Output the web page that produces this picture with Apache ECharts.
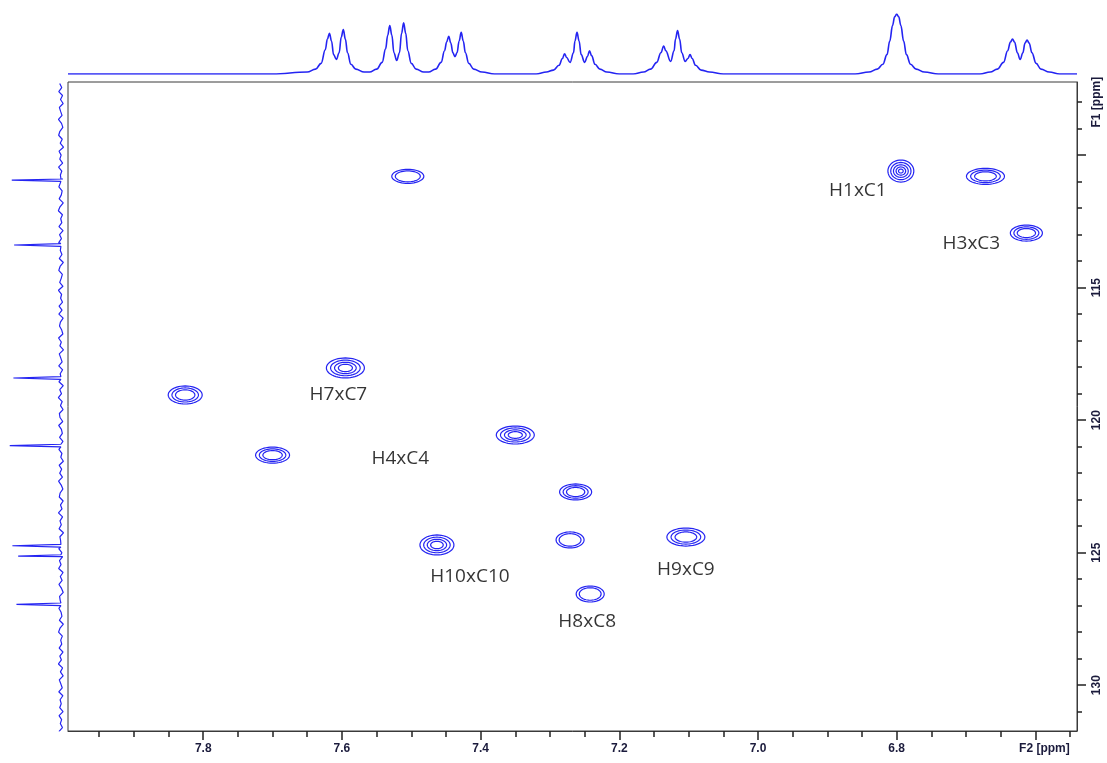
<!DOCTYPE html>
<html>
<head>
<meta charset="utf-8">
<title>HSQC</title>
<script src="https://cdn.jsdelivr.net/npm/echarts@6/dist/echarts.min.js"></script>
<style>
  html, body { margin: 0; padding: 0; background: #ffffff; }
  #chart { width: 1107px; height: 763px; }
</style>
</head>
<body>
<div id="chart"></div>
<script>
// ---- 2D cross peaks (F2 = 1H ppm, F1 = 13C ppm) ----
const peakF2 = [7.505, 6.794, 6.672, 6.613, 7.595, 7.826, 7.350, 7.700, 7.263, 7.463, 7.271, 7.104, 7.242];
const peakF1 = [110.80, 110.60, 110.80, 112.94, 118.03, 119.05, 120.56, 121.32, 122.71, 124.71, 124.52, 124.41, 126.56];
// half linewidths of the outermost contour, in ppm
const peakHalfWidthF2 = [0.0231, 0.0187, 0.0274, 0.0231, 0.0274, 0.0245, 0.0274, 0.0245, 0.0231, 0.0245, 0.0202, 0.0274, 0.0202];
const peakHalfWidthF1 = [0.264, 0.415, 0.302, 0.302, 0.377, 0.340, 0.340, 0.302, 0.302, 0.377, 0.302, 0.340, 0.302];
// number of contour levels above threshold
const peakLevels = [2, 5, 3, 3, 4, 3, 4, 3, 3, 4, 2, 3, 2];
const peakNames = ['', 'H1xC1', '', 'H3xC3', 'H7xC7', '', 'H4xC4', '', '', 'H10xC10', '', 'H9xC9', 'H8xC8'];

// ---- 1H projection (F2): [ppm, intensity] ----
const h1Doublet761 = [[7.700,0],[7.650,2],[7.638,5],[7.630,11],[7.624,25],[7.621,36],[7.618,42],[7.615,34],[7.612,20],[7.608,15],[7.604,22],[7.601,38],[7.598,46],[7.595,36],[7.592,22],[7.587,10],[7.580,5],[7.568,2]];
const h1Doublet752 = [[7.560,2],[7.550,5],[7.542,12],[7.537,26],[7.534,40],[7.531,50],[7.528,40],[7.525,22],[7.521,14],[7.517,22],[7.514,42],[7.511,53],[7.508,42],[7.505,24],[7.500,11],[7.493,5],[7.482,2]];
const h1Doublet744 = [[7.475,2],[7.465,5],[7.457,12],[7.452,24],[7.449,33],[7.446,39],[7.443,32],[7.440,22],[7.437,18],[7.434,22],[7.431,34],[7.428,43],[7.425,34],[7.422,22],[7.417,11],[7.410,5],[7.398,2],[7.380,0]];
const h1Triplet726 = [[7.320,0],[7.305,2],[7.295,4],[7.287,9],[7.282,16],[7.279,21],[7.276,17],[7.271,12],[7.266,22],[7.264,34],[7.261,43],[7.258,34],[7.255,20],[7.250,12],[7.246,18],[7.243,24],[7.240,19],[7.235,10],[7.228,5],[7.218,2],[7.200,0]];
const h1Triplet712 = [[7.180,0],[7.165,2],[7.155,5],[7.146,12],[7.140,22],[7.136,29],[7.133,24],[7.126,13],[7.121,24],[7.119,36],[7.116,45],[7.113,36],[7.110,22],[7.105,13],[7.101,16],[7.098,20],[7.095,16],[7.090,9],[7.082,4],[7.070,2],[7.050,0]];
const h1Singlet680 = [[6.860,0],[6.840,2],[6.828,5],[6.820,10],[6.814,20],[6.810,34],[6.806,50],[6.803,59],[6.800,62],[6.797,59],[6.794,50],[6.790,34],[6.786,20],[6.780,10],[6.772,5],[6.760,2],[6.740,0]];
const h1Doublet662 = [[6.680,0],[6.665,2],[6.655,5],[6.646,12],[6.640,24],[6.636,33],[6.633,36],[6.630,33],[6.626,22],[6.622,15],[6.618,22],[6.615,32],[6.612,35],[6.609,32],[6.605,22],[6.599,11],[6.592,5],[6.580,2],[6.565,0]];

// ---- 13C projection (F1): spike positions and heights, baseline noise ----
const c13Shift = [110.94, 113.39, 118.41, 120.96, 124.74, 125.13, 126.95];
const c13Height = [48.3, 46.0, 46.7, 50.3, 47.7, 42.0, 43.7];
const c13NoiseStart = 107.30;
const c13NoiseStep = 0.15;
const c13Noise = [
  1.2,-0.8,2.1,-1.6,0.4,-2.2,1.5,0.3,-1.1,2.4,-0.6,-1.9,1.0,2.2,-1.3,0.7,-2.5,1.8,-0.2,1.1,
  -1.7,2.3,-0.9,0.5,-2.0,1.4,2.0,-1.2,-0.4,1.7,-2.3,0.9,2.5,-1.5,0.2,-0.9,1.9,-2.1,1.3,-0.5,
  2.2,-1.8,0.6,-1.0,1.6,-2.4,0.8,2.1,-1.4,-0.3,1.2,-2.0,2.4,-0.7,0.3,-1.6,1.8,-1.1,2.0,-2.2,
  0.5,1.4,-0.8,-1.9,2.3,-0.4,1.0,-2.5,1.6,0.2,-1.2,2.1,-1.7,0.7,-0.2,1.9,-2.3,1.1,-0.6,2.5,
  -1.3,0.4,-2.1,1.5,0.9,-1.8,2.2,-0.5,-1.4,1.3,-2.0,0.6,2.0,-1.0,0.1,-2.4,1.7,-0.7,1.2,-1.5,
  2.3,-0.3,-1.9,0.8,1.6,-2.2,0.4,-1.1,2.4,-1.6,0.9,-0.4,1.8,-2.5,1.0,0.3,-1.3,2.1,-0.9,-1.7,
  1.4,-0.1,2.2,-2.1,0.6,-1.2,1.9,-0.6,-2.3,1.3,0.7,-1.8,2.0,-0.2,-1.0,1.5,-2.4,0.9,2.3,-1.4,
  0.2,-0.8,1.7,-2.0,1.1,-0.5,2.4,-1.6,0.5,-2.2,1.6,0.1,-1.3,2.1,-1.9,0.8,-0.3,1.2,-2.1,1.8,
  -0.7,0.6,-1.5,2.0];

// ---- axis ticks ----
const f2MajorTicks = [6.6, 6.8, 7.0, 7.2, 7.4, 7.6, 7.8];
const f2MinorTicks = [6.55, 6.65, 6.7, 6.75, 6.85, 6.9, 6.95, 7.05, 7.1, 7.15, 7.25, 7.3, 7.35, 7.45, 7.5, 7.55, 7.65, 7.7, 7.75, 7.85, 7.9, 7.95];
const f1MajorTicks = [110, 115, 120, 125, 130];
const f1LabelTicks = [108, 115, 120, 125, 130];
const f1MinorTicks = [108, 109, 111, 112, 113, 114, 116, 117, 118, 119, 121, 122, 123, 124, 126, 127, 128, 129, 131];
const f2Unit = 'F2 [ppm]';
const f1Unit = 'F1 [ppm]';

// ---- plot ranges ----
const f2Min = 6.54, f2Max = 7.995;
const f1Min = 107.24, f1Max = 131.73;

// label placement (px, relative to the peak centre)
const labelOffsets = {
  'H1xC1': [-43, 20], 'H3xC3': [-55, 11], 'H7xC7': [-7, 27], 'H4xC4': [-115, 24],
  'H10xC10': [33, 32], 'H9xC9': [0, 33], 'H8xC8': [-3, 28]
};

const BLUE = '#2424f2';
const AXIS_TEXT = '#1b1b3c';
const ringFractions = [1, 0.78, 0.57, 0.37, 0.18];

const crossPeaks = peakF2.map((x, i) => [x, peakF1[i], peakHalfWidthF2[i], peakHalfWidthF1[i], peakLevels[i]]);

const h1Spectrum = [[f2Max, 0]].concat(h1Doublet761, h1Doublet752, h1Doublet744, h1Triplet726,
  h1Triplet712, h1Singlet680, h1Doublet662, [[f2Min, 0]]);

// vertical 13C trace: noise samples merged with sharp spikes, as [intensity, ppm]
const c13Points = c13Noise.map((v, i) => [v, +(c13NoiseStart + i * c13NoiseStep).toFixed(3)]);
c13Shift.forEach((p, i) => {
  c13Points.push([0, p - 0.05], [c13Height[i], p], [0, p + 0.05]);
});
c13Points.sort((a, b) => a[1] - b[1]);

const labelData = [];
peakNames.forEach((n, i) => {
  if (!n) return;
  labelData.push({
    value: [peakF2[i], peakF1[i]],
    name: n,
    label: { offset: labelOffsets[n] }
  });
});

function ellipsePoints(cx, cy, rx, ry) {
  const pts = [];
  const N = 48;
  for (let k = 0; k < N; k++) {
    const t = (k / N) * Math.PI * 2;
    pts.push([cx + rx * Math.cos(t), cy + ry * Math.sin(t)]);
  }
  return pts;
}

const chart = echarts.init(document.getElementById('chart'), null, { renderer: 'canvas' });

const axisLabelStyle = {
  color: AXIS_TEXT, fontFamily: 'Liberation Sans, Arial, sans-serif', fontWeight: 'bold', fontSize: 12
};

chart.setOption({
  backgroundColor: '#ffffff',
  animation: false,
  grid: [
    { left: 68, top: 82, width: 1009, height: 649, show: true, borderColor: '#3a3a3a', borderWidth: 1, backgroundColor: 'transparent' },
    { left: 68, top: 14, width: 1009, height: 60 },
    { left: 8, top: 82, width: 58, height: 649 }
  ],
  xAxis: [
    {
      type: 'value', gridIndex: 0, min: f2Min, max: f2Max, inverse: true, position: 'bottom',
      axisLine: { show: true, lineStyle: { color: '#3a3a3a', width: 1 } },
      axisTick: { show: true, length: 9, customValues: f2MajorTicks, lineStyle: { color: '#222', width: 1.5 } },
      axisLabel: {
        show: true, customValues: f2MajorTicks, margin: 12, ...axisLabelStyle,
        formatter: v => (Math.abs(v - 6.6) < 1e-6 ? '{u|' + f2Unit + '}' : v.toFixed(1)),
        rich: { u: { ...axisLabelStyle, padding: [0, 0, 0, 18] } }
      },
      splitLine: { show: false }
    },
    {
      type: 'value', gridIndex: 0, min: f2Min, max: f2Max, inverse: true, position: 'bottom',
      axisLine: { show: false },
      axisTick: { show: true, length: 6, customValues: f2MinorTicks, lineStyle: { color: '#222', width: 1.5 } },
      axisLabel: { show: false },
      splitLine: { show: false }
    },
    { type: 'value', gridIndex: 1, min: f2Min, max: f2Max, inverse: true, show: false },
    { type: 'value', gridIndex: 2, min: -5, max: 52, inverse: true, show: false }
  ],
  yAxis: [
    {
      type: 'value', gridIndex: 0, min: f1Min, max: f1Max, inverse: true, position: 'right',
      axisLine: { show: true, lineStyle: { color: '#3a3a3a', width: 1 } },
      axisTick: { show: true, length: 9, customValues: f1MajorTicks, lineStyle: { color: '#222', width: 1.5 } },
      axisLabel: {
        show: true, customValues: f1LabelTicks, rotate: 90, margin: 14, ...axisLabelStyle,
        formatter: v => (v === 108 ? f1Unit : String(v))
      },
      splitLine: { show: false }
    },
    {
      type: 'value', gridIndex: 0, min: f1Min, max: f1Max, inverse: true, position: 'right',
      axisLine: { show: false },
      axisTick: { show: true, length: 5, customValues: f1MinorTicks, lineStyle: { color: '#222', width: 1.5 } },
      axisLabel: { show: false },
      splitLine: { show: false }
    },
    { type: 'value', gridIndex: 1, min: 0, max: 62, show: false },
    { type: 'value', gridIndex: 2, min: f1Min, max: f1Max, inverse: true, show: false }
  ],
  series: [
    {
      name: 'contours',
      type: 'custom',
      xAxisIndex: 0, yAxisIndex: 0,
      data: crossPeaks,
      clip: true,
      renderItem: function (params, api) {
        const c = api.coord([api.value(0), api.value(1)]);
        const s = api.size([api.value(2), api.value(3)]);
        const n = api.value(4);
        const children = [];
        for (let k = 0; k < n; k++) {
          const f = ringFractions[k];
          children.push({
            type: 'polygon',
            shape: { points: ellipsePoints(c[0], c[1], s[0] * f, s[1] * f) },
            style: { fill: 'none', stroke: BLUE, lineWidth: 1.2 }
          });
        }
        return { type: 'group', children: children };
      }
    },
    {
      name: 'assignments',
      type: 'scatter',
      xAxisIndex: 0, yAxisIndex: 0,
      symbolSize: 0,
      data: labelData,
      label: {
        show: true, position: 'inside', formatter: p => p.name,
        color: '#000000', fontFamily: 'Open Sans, sans-serif', fontSize: 19
      },
      silent: true
    },
    {
      name: '1H',
      type: 'line',
      xAxisIndex: 2, yAxisIndex: 2,
      data: h1Spectrum,
      showSymbol: false,
      smooth: 0.4,
      smoothMonotone: 'x',
      lineStyle: { color: BLUE, width: 1.6 }
    },
    {
      name: '13C',
      type: 'line',
      xAxisIndex: 3, yAxisIndex: 3,
      data: c13Points,
      showSymbol: false,
      lineStyle: { color: BLUE, width: 1.2 }
    }
  ]
});
</script>
</body>
</html>
